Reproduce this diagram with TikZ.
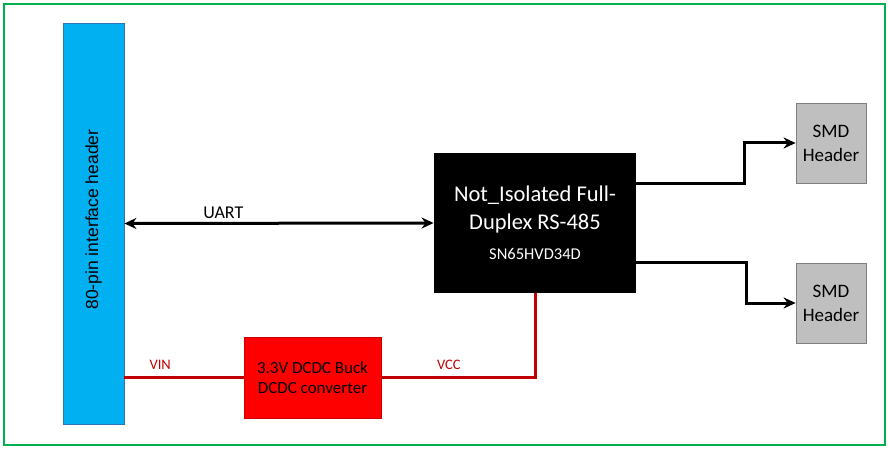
\documentclass[tikz,border=0pt]{standalone}
\usepackage{fontspec}
\setmainfont{Carlito}
\newfontfamily\arialfont{Liberation Sans}
\usepackage{xcolor}
\usetikzlibrary{arrows.meta, positioning}

\definecolor{frameGreen}{HTML}{00B050}
\definecolor{hdrBlue}{HTML}{00B0F0}
\definecolor{hdrEdge}{HTML}{2E75B6}
\definecolor{pwrRed}{HTML}{C00000}
\definecolor{smdGray}{HTML}{BFBFBF}
\definecolor{smdEdge}{HTML}{7F7F7F}

\begin{document}
\begin{tikzpicture}[x=1pt, y=-1pt, >=Stealth,
    blockbox/.style={inner sep=0pt, align=center, line width=0.8pt},
    smdbox/.style={blockbox, draw=smdEdge, fill=smdGray, minimum width=70pt, minimum height=80pt,
        font=\fontsize{19}{24}\selectfont},
    bus/.style={line width=3pt, ->, >={Stealth[length=12pt, width=11pt]}},
    pwr/.style={line width=3pt, pwrRed},
    sig/.style={font=\fontsize{14.5}{16}\selectfont, text=pwrRed}]
    \useasboundingbox (0,0) rectangle (889,449);

    % frame
    \draw[line width=2.6pt, frameGreen] (4,4) rectangle (885,445);

    % blocks
    \node[blockbox, draw=hdrEdge, fill=hdrBlue, minimum width=61pt, minimum height=401pt]
        (hdr) at (93.5,223.5) {};
    \node[rotate=90, font=\arialfont\fontsize{17.5}{20}\selectfont] at ([yshift=4pt]hdr.center)
        {80-pin interface header};
    \node[blockbox, fill=black, text=white, minimum width=202pt, minimum height=140pt,
        font=\fontsize{22.5}{28}\selectfont]
        (rs) at (535,223) {Not\_Isolated Full-\\Duplex RS-485\\[2pt]
        {\fontsize{16.5}{20}\selectfont SN65HVD34D}};
    \node[smdbox] (smd1) at (831,143) {SMD\\Header};
    \node[smdbox] (smd2) at (831,303) {SMD\\Header};
    \node[blockbox, draw=red!80!black, line width=0.5pt, fill=red, minimum width=137pt, minimum height=81pt,
        font=\fontsize{17}{20}\selectfont] (dcdc) at (312.5,377.5) {3.3V DCDC Buck\\DCDC converter};

    % connectors
    \draw[bus, <->] (hdr.east) -- (rs.west)
        node[pos=0.32, above=0pt, font=\fontsize{18}{20}\selectfont] {UART};
    \draw[bus] (rs.east |- smd1.south) -- ++(108,0) |- (smd1.west);
    \draw[bus] (rs.east |- smd2.north) -- ++(110,0) |- (smd2.west);
    \draw[pwr] (hdr.east |- dcdc.west) -- (dcdc.west)
        node[pos=0.3, above=3pt, sig] {VIN};
    \draw[pwr] (dcdc.east) -| (rs.south)
        node[pos=0.22, above=3pt, sig] {VCC};
\end{tikzpicture}
\end{document}
